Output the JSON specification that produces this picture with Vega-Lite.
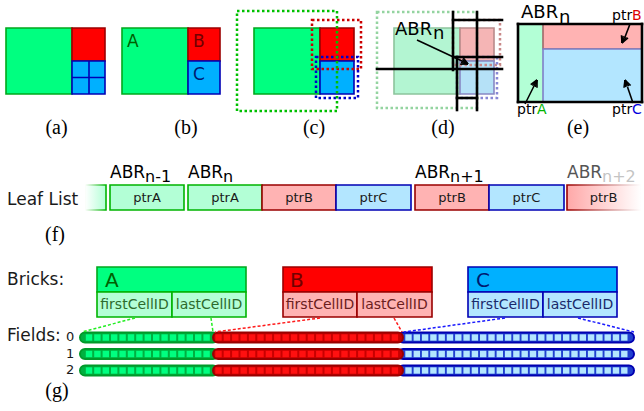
{
"$schema": "https://vega.github.io/schema/vega-lite/v6.json",
"width": 644, "height": 411,
"autosize": {"type": "fit", "contains": "padding"},
"padding": 0,
"background": "white",
"config": {"view": {"stroke": null}},
"resolve": {"scale": {"fill": "independent", "stroke": "independent"}},
"datasets": {
"rects": [
{"x":6,"x2":72,"y":28,"y2":94,"k":"G"},
{"x":72,"x2":105,"y":28,"y2":61,"k":"R"},
{"x":72,"x2":105,"y":61,"y2":94,"k":"B"},
{"x":122,"x2":188,"y":28,"y2":94,"k":"G"},
{"x":188,"x2":220,"y":28,"y2":61,"k":"R"},
{"x":188,"x2":220,"y":61,"y2":94,"k":"B"},
{"x":254,"x2":320,"y":28,"y2":94,"k":"G"},
{"x":320,"x2":354,"y":28,"y2":61,"k":"R"},
{"x":320,"x2":354,"y":61,"y2":94,"k":"B"},
{"x":394,"x2":460,"y":28,"y2":94,"k":"GD"},
{"x":460,"x2":494,"y":28,"y2":61,"k":"RD"},
{"x":460,"x2":494,"y":61,"y2":94,"k":"BD"},
{"x":518,"x2":543,"y":24,"y2":102,"k":"GE"},
{"x":543,"x2":642,"y":24,"y2":49,"k":"RE"},
{"x":543,"x2":642,"y":49,"y2":102,"k":"BE"},
{"x":110,"x2":184,"y":185,"y2":210,"k":"GL"},
{"x":188,"x2":262,"y":185,"y2":210,"k":"GL"},
{"x":262,"x2":336,"y":185,"y2":210,"k":"RL"},
{"x":336,"x2":411,"y":185,"y2":210,"k":"BL"},
{"x":415,"x2":489,"y":185,"y2":210,"k":"RL"},
{"x":489,"x2":564,"y":185,"y2":210,"k":"BL"},
{"x":97,"x2":246,"y":267,"y2":292,"k":"G"},
{"x":97,"x2":172,"y":292,"y2":317,"k":"GL"},
{"x":172,"x2":246,"y":292,"y2":317,"k":"GL"},
{"x":283,"x2":432,"y":267,"y2":292,"k":"R"},
{"x":283,"x2":357,"y":292,"y2":317,"k":"RL"},
{"x":357,"x2":432,"y":292,"y2":317,"k":"RL"},
{"x":468,"x2":617,"y":267,"y2":292,"k":"B"},
{"x":468,"x2":543,"y":292,"y2":317,"k":"BL"},
{"x":543,"x2":617,"y":292,"y2":317,"k":"BL"}
],
"fades": [
{"x":85,"x2":106,"y":185,"y2":210,"k":"FG"},
{"x":567,"x2":641,"y":185,"y2":210,"k":"FR"}
],
"dotted": [
{"x":312,"x2":361,"y":20,"y2":69,"k":"DotR"},
{"x":316,"x2":358,"y":57,"y2":98,"k":"DotB"},
{"x":237,"x2":337,"y":11,"y2":111,"k":"DotG"},
{"x":453,"x2":500,"y":20,"y2":65,"k":"DotRD"},
{"x":457,"x2":497,"y":57,"y2":98,"k":"DotBD"},
{"x":377,"x2":477,"y":12,"y2":108,"k":"DotGD"}
],
"bars": [
{"x":80,"x2":218,"y":332.5,"y2":342.5,"k":"BarG"},
{"x":398,"x2":634,"y":332.5,"y2":342.5,"k":"BarB"},
{"x":213,"x2":403,"y":332.5,"y2":342.5,"k":"BarR"},
{"x":80,"x2":218,"y":349,"y2":359,"k":"BarG"},
{"x":398,"x2":634,"y":349,"y2":359,"k":"BarB"},
{"x":213,"x2":403,"y":349,"y2":359,"k":"BarR"},
{"x":80,"x2":218,"y":365.5,"y2":375.5,"k":"BarG"},
{"x":398,"x2":634,"y":365.5,"y2":375.5,"k":"BarB"},
{"x":213,"x2":403,"y":365.5,"y2":375.5,"k":"BarR"}
],
"sq": [
{"x":85.8,"x2":92.2,"k":"QG","y":[334.3,350.8,367.3],"y2":[340.7,357.2,373.7]},
{"x":94.2,"x2":100.6,"k":"QG","y":[334.3,350.8,367.3],"y2":[340.7,357.2,373.7]},
{"x":102.6,"x2":109,"k":"QG","y":[334.3,350.8,367.3],"y2":[340.7,357.2,373.7]},
{"x":111,"x2":117.4,"k":"QG","y":[334.3,350.8,367.3],"y2":[340.7,357.2,373.7]},
{"x":119.4,"x2":125.8,"k":"QG","y":[334.3,350.8,367.3],"y2":[340.7,357.2,373.7]},
{"x":127.8,"x2":134.2,"k":"QG","y":[334.3,350.8,367.3],"y2":[340.7,357.2,373.7]},
{"x":136.2,"x2":142.6,"k":"QG","y":[334.3,350.8,367.3],"y2":[340.7,357.2,373.7]},
{"x":144.6,"x2":151,"k":"QG","y":[334.3,350.8,367.3],"y2":[340.7,357.2,373.7]},
{"x":153,"x2":159.4,"k":"QG","y":[334.3,350.8,367.3],"y2":[340.7,357.2,373.7]},
{"x":161.4,"x2":167.8,"k":"QG","y":[334.3,350.8,367.3],"y2":[340.7,357.2,373.7]},
{"x":169.8,"x2":176.2,"k":"QG","y":[334.3,350.8,367.3],"y2":[340.7,357.2,373.7]},
{"x":178.2,"x2":184.6,"k":"QG","y":[334.3,350.8,367.3],"y2":[340.7,357.2,373.7]},
{"x":186.6,"x2":193,"k":"QG","y":[334.3,350.8,367.3],"y2":[340.7,357.2,373.7]},
{"x":195,"x2":201.4,"k":"QG","y":[334.3,350.8,367.3],"y2":[340.7,357.2,373.7]},
{"x":203.4,"x2":209.8,"k":"QG","y":[334.3,350.8,367.3],"y2":[340.7,357.2,373.7]},
{"x":215.3,"x2":221.7,"k":"QR","y":[334.3,350.8,367.3],"y2":[340.7,357.2,373.7]},
{"x":223.7,"x2":230.1,"k":"QR","y":[334.3,350.8,367.3],"y2":[340.7,357.2,373.7]},
{"x":232.1,"x2":238.5,"k":"QR","y":[334.3,350.8,367.3],"y2":[340.7,357.2,373.7]},
{"x":240.5,"x2":246.9,"k":"QR","y":[334.3,350.8,367.3],"y2":[340.7,357.2,373.7]},
{"x":248.9,"x2":255.3,"k":"QR","y":[334.3,350.8,367.3],"y2":[340.7,357.2,373.7]},
{"x":257.3,"x2":263.7,"k":"QR","y":[334.3,350.8,367.3],"y2":[340.7,357.2,373.7]},
{"x":265.7,"x2":272.1,"k":"QR","y":[334.3,350.8,367.3],"y2":[340.7,357.2,373.7]},
{"x":274.1,"x2":280.5,"k":"QR","y":[334.3,350.8,367.3],"y2":[340.7,357.2,373.7]},
{"x":282.5,"x2":288.9,"k":"QR","y":[334.3,350.8,367.3],"y2":[340.7,357.2,373.7]},
{"x":290.9,"x2":297.3,"k":"QR","y":[334.3,350.8,367.3],"y2":[340.7,357.2,373.7]},
{"x":299.3,"x2":305.7,"k":"QR","y":[334.3,350.8,367.3],"y2":[340.7,357.2,373.7]},
{"x":307.7,"x2":314.1,"k":"QR","y":[334.3,350.8,367.3],"y2":[340.7,357.2,373.7]},
{"x":316.1,"x2":322.5,"k":"QR","y":[334.3,350.8,367.3],"y2":[340.7,357.2,373.7]},
{"x":324.5,"x2":330.9,"k":"QR","y":[334.3,350.8,367.3],"y2":[340.7,357.2,373.7]},
{"x":332.9,"x2":339.3,"k":"QR","y":[334.3,350.8,367.3],"y2":[340.7,357.2,373.7]},
{"x":341.3,"x2":347.7,"k":"QR","y":[334.3,350.8,367.3],"y2":[340.7,357.2,373.7]},
{"x":349.7,"x2":356.1,"k":"QR","y":[334.3,350.8,367.3],"y2":[340.7,357.2,373.7]},
{"x":358.1,"x2":364.5,"k":"QR","y":[334.3,350.8,367.3],"y2":[340.7,357.2,373.7]},
{"x":366.5,"x2":372.9,"k":"QR","y":[334.3,350.8,367.3],"y2":[340.7,357.2,373.7]},
{"x":374.9,"x2":381.3,"k":"QR","y":[334.3,350.8,367.3],"y2":[340.7,357.2,373.7]},
{"x":383.3,"x2":389.7,"k":"QR","y":[334.3,350.8,367.3],"y2":[340.7,357.2,373.7]},
{"x":391.7,"x2":398.1,"k":"QR","y":[334.3,350.8,367.3],"y2":[340.7,357.2,373.7]},
{"x":405.3,"x2":411.7,"k":"QB","y":[334.3,350.8,367.3],"y2":[340.7,357.2,373.7]},
{"x":413.6,"x2":420,"k":"QB","y":[334.3,350.8,367.3],"y2":[340.7,357.2,373.7]},
{"x":421.9,"x2":428.3,"k":"QB","y":[334.3,350.8,367.3],"y2":[340.7,357.2,373.7]},
{"x":430.2,"x2":436.6,"k":"QB","y":[334.3,350.8,367.3],"y2":[340.7,357.2,373.7]},
{"x":438.5,"x2":444.9,"k":"QB","y":[334.3,350.8,367.3],"y2":[340.7,357.2,373.7]},
{"x":446.8,"x2":453.2,"k":"QB","y":[334.3,350.8,367.3],"y2":[340.7,357.2,373.7]},
{"x":455.1,"x2":461.5,"k":"QB","y":[334.3,350.8,367.3],"y2":[340.7,357.2,373.7]},
{"x":463.4,"x2":469.8,"k":"QB","y":[334.3,350.8,367.3],"y2":[340.7,357.2,373.7]},
{"x":471.7,"x2":478.1,"k":"QB","y":[334.3,350.8,367.3],"y2":[340.7,357.2,373.7]},
{"x":480,"x2":486.4,"k":"QB","y":[334.3,350.8,367.3],"y2":[340.7,357.2,373.7]},
{"x":488.3,"x2":494.7,"k":"QB","y":[334.3,350.8,367.3],"y2":[340.7,357.2,373.7]},
{"x":496.6,"x2":503,"k":"QB","y":[334.3,350.8,367.3],"y2":[340.7,357.2,373.7]},
{"x":504.9,"x2":511.3,"k":"QB","y":[334.3,350.8,367.3],"y2":[340.7,357.2,373.7]},
{"x":513.2,"x2":519.6,"k":"QB","y":[334.3,350.8,367.3],"y2":[340.7,357.2,373.7]},
{"x":521.5,"x2":527.9,"k":"QB","y":[334.3,350.8,367.3],"y2":[340.7,357.2,373.7]},
{"x":529.8,"x2":536.2,"k":"QB","y":[334.3,350.8,367.3],"y2":[340.7,357.2,373.7]},
{"x":538.1,"x2":544.5,"k":"QB","y":[334.3,350.8,367.3],"y2":[340.7,357.2,373.7]},
{"x":546.4,"x2":552.8,"k":"QB","y":[334.3,350.8,367.3],"y2":[340.7,357.2,373.7]},
{"x":554.7,"x2":561.1,"k":"QB","y":[334.3,350.8,367.3],"y2":[340.7,357.2,373.7]},
{"x":563,"x2":569.4,"k":"QB","y":[334.3,350.8,367.3],"y2":[340.7,357.2,373.7]},
{"x":571.3,"x2":577.7,"k":"QB","y":[334.3,350.8,367.3],"y2":[340.7,357.2,373.7]},
{"x":579.6,"x2":586,"k":"QB","y":[334.3,350.8,367.3],"y2":[340.7,357.2,373.7]},
{"x":587.9,"x2":594.3,"k":"QB","y":[334.3,350.8,367.3],"y2":[340.7,357.2,373.7]},
{"x":596.2,"x2":602.6,"k":"QB","y":[334.3,350.8,367.3],"y2":[340.7,357.2,373.7]},
{"x":604.5,"x2":610.9,"k":"QB","y":[334.3,350.8,367.3],"y2":[340.7,357.2,373.7]},
{"x":612.8,"x2":619.2,"k":"QB","y":[334.3,350.8,367.3],"y2":[340.7,357.2,373.7]},
{"x":621.1,"x2":627.5,"k":"QB","y":[334.3,350.8,367.3],"y2":[340.7,357.2,373.7]}
],
"lines": [
{"x":453,"y":12,"x2":453,"y2":70,"k":"BLK"},
{"x":477,"y":12,"x2":477,"y2":110,"k":"BLK"},
{"x":453,"y":20,"x2":502,"y2":20,"k":"BLK"},
{"x":455,"y":57,"x2":502,"y2":57,"k":"BLK"},
{"x":377,"y":69,"x2":502,"y2":69,"k":"BLK"},
{"x":457,"y":57,"x2":457,"y2":110,"k":"BLK"},
{"x":457,"y":98,"x2":477,"y2":98,"k":"BLK"},
{"x":518,"y":24,"x2":642,"y2":24,"k":"BLK"},
{"x":642,"y":24,"x2":642,"y2":102,"k":"BLK"},
{"x":642,"y":102,"x2":518,"y2":102,"k":"BLK"},
{"x":518,"y":102,"x2":518,"y2":24,"k":"BLK"},
{"x":89,"y":61,"x2":89,"y2":94,"k":"GRID"},
{"x":72,"y":77.5,"x2":105,"y2":77.5,"k":"GRID"},
{"x":417,"y":40,"x2":462,"y2":61,"k":"ARR"},
{"x":468,"y":64,"x2":460.18,"y2":64.18,"k":"ARR"},
{"x":468,"y":64,"x2":460.92,"y2":62.6,"k":"ARR"},
{"x":468,"y":64,"x2":461.67,"y2":61.02,"k":"ARR"},
{"x":468,"y":64,"x2":462.42,"y2":59.44,"k":"ARR"},
{"x":468,"y":64,"x2":463.16,"y2":57.86,"k":"ARR"},
{"x":630,"y":24,"x2":625,"y2":37,"k":"ARR"},
{"x":622,"y":43,"x2":621.49,"y2":35.19,"k":"ARR"},
{"x":622,"y":43,"x2":623.1,"y2":35.87,"k":"ARR"},
{"x":622,"y":43,"x2":624.72,"y2":36.55,"k":"ARR"},
{"x":622,"y":43,"x2":626.33,"y2":37.23,"k":"ARR"},
{"x":622,"y":43,"x2":627.95,"y2":37.91,"k":"ARR"},
{"x":525,"y":104,"x2":534,"y2":86,"k":"ARR"},
{"x":537,"y":80,"x2":537,"y2":87.82,"k":"ARR"},
{"x":537,"y":80,"x2":535.43,"y2":87.04,"k":"ARR"},
{"x":537,"y":80,"x2":533.87,"y2":86.26,"k":"ARR"},
{"x":537,"y":80,"x2":532.31,"y2":85.48,"k":"ARR"},
{"x":537,"y":80,"x2":530.74,"y2":84.7,"k":"ARR"},
{"x":633,"y":103,"x2":627.5,"y2":87,"k":"ARR"},
{"x":625,"y":80,"x2":630.61,"y2":85.46,"k":"ARR"},
{"x":625,"y":80,"x2":628.95,"y2":86.03,"k":"ARR"},
{"x":625,"y":80,"x2":627.3,"y2":86.61,"k":"ARR"},
{"x":625,"y":80,"x2":625.65,"y2":87.19,"k":"ARR"},
{"x":625,"y":80,"x2":623.99,"y2":87.76,"k":"ARR"},
{"x":135,"y":318,"x2":82,"y2":332,"k":"CG"},
{"x":211,"y":318,"x2":213,"y2":332,"k":"CG"},
{"x":320,"y":318,"x2":215,"y2":332,"k":"CR"},
{"x":394,"y":318,"x2":402,"y2":332,"k":"CR"},
{"x":505,"y":318,"x2":404,"y2":332,"k":"CB"},
{"x":578,"y":318,"x2":634,"y2":332,"k":"CB"}
],
"texts": [
{"t":"(a)","x":56.5,"y":134,"s":"lab","k":"TK"},
{"t":"(b)","x":186,"y":134,"s":"lab","k":"TK"},
{"t":"(c)","x":314,"y":134,"s":"lab","k":"TK"},
{"t":"(d)","x":443,"y":134,"s":"lab","k":"TK"},
{"t":"(e)","x":578,"y":134,"s":"lab","k":"TK"},
{"t":"(f)","x":55,"y":241,"s":"lab","k":"TK"},
{"t":"(g)","x":57,"y":397,"s":"lab","k":"TK"},
{"t":"A","x":127,"y":47,"s":"s17","k":"TG"},
{"t":"B","x":193,"y":47,"s":"s17","k":"TR"},
{"t":"C","x":193,"y":80,"s":"s17","k":"TB"},
{"t":"Leaf List","x":7,"y":205,"s":"s17","k":"TD"},
{"t":"Bricks:","x":7,"y":285,"s":"s17","k":"TD"},
{"t":"Fields:","x":7,"y":341,"s":"s17","k":"TD"},
{"t":"ABR","x":395,"y":35,"s":"s18","k":"TK"},
{"t":"n","x":433,"y":39,"s":"s18","k":"TK"},
{"t":"ABR","x":521,"y":18,"s":"s18","k":"TK"},
{"t":"n","x":559,"y":22.5,"s":"s18","k":"TK"},
{"t":"A","x":105,"y":287,"s":"s20","k":"TG"},
{"t":"B","x":290,"y":287,"s":"s20","k":"TR"},
{"t":"C","x":476,"y":287,"s":"s20","k":"TB"},
{"t":"ptr","x":612,"y":20,"s":"s14","k":"TK"},
{"t":"B","x":632,"y":20,"s":"s14","k":"PB"},
{"t":"ptr","x":517,"y":114,"s":"s14","k":"TK"},
{"t":"A","x":537,"y":114,"s":"s14","k":"PA"},
{"t":"ptr","x":612,"y":114,"s":"s14","k":"TK"},
{"t":"C","x":632,"y":114,"s":"s14","k":"PC"},
{"t":"ABR","x":110,"y":178,"s":"s17","k":"TK"},
{"t":"n-1","x":145,"y":182,"s":"s16","k":"TK"},
{"t":"ABR","x":188,"y":178,"s":"s17","k":"TK"},
{"t":"n","x":223,"y":182,"s":"s16","k":"TK"},
{"t":"ABR","x":415,"y":178,"s":"s17","k":"TK"},
{"t":"n+1","x":450,"y":182,"s":"s16","k":"TK"},
{"t":"ABR","x":567,"y":178,"s":"s17","k":"TGray"},
{"t":"n+2","x":602,"y":182,"s":"s16","k":"TLight"},
{"t":"0","x":66,"y":341,"s":"s13","k":"TD"},
{"t":"1","x":66,"y":358,"s":"s13","k":"TD"},
{"t":"2","x":66,"y":374,"s":"s13","k":"TD"},
{"t":"firstCellID","x":134.5,"y":309,"s":"c13","k":"TDG"},
{"t":"lastCellID","x":209,"y":309,"s":"c13","k":"TDG"},
{"t":"firstCellID","x":320,"y":309,"s":"c13","k":"TDR"},
{"t":"lastCellID","x":394.5,"y":309,"s":"c13","k":"TDR"},
{"t":"firstCellID","x":505.5,"y":309,"s":"c13","k":"TDB"},
{"t":"lastCellID","x":580,"y":309,"s":"c13","k":"TDB"},
{"t":"ptrA","x":147,"y":202,"s":"c12","k":"TD"},
{"t":"ptrA","x":225,"y":202,"s":"c12","k":"TD"},
{"t":"ptrB","x":299,"y":202,"s":"c12","k":"TD"},
{"t":"ptrC","x":373.5,"y":202,"s":"c12","k":"TD"},
{"t":"ptrB","x":452,"y":202,"s":"c12","k":"TD"},
{"t":"ptrC","x":526.5,"y":202,"s":"c12","k":"TD"},
{"t":"ptrB","x":603.5,"y":202,"s":"c12","k":"TD"}
]
},
"encoding": {
"x": {"field": "x", "type": "quantitative", "scale": {"domain": [0, 644], "nice": false, "zero": false}, "axis": null},
"y": {"field": "y", "type": "quantitative", "scale": {"domain": [0, 411], "nice": false, "zero": false, "reverse": true}, "axis": null}
},
"layer": [
{
"data": {"name": "rects"},
"mark": {"type": "rect", "strokeWidth": 1.6},
"encoding": {
"x2": {"field": "x2"}, "y2": {"field": "y2"},
"fill": {"field": "k", "type": "nominal", "legend": null, "scale": {"domain": ["G","R","B","GL","RL","BL","GD","RD","BD","GE","RE","BE"], "range": ["#00ff80","#ff0000","#00b0ff","#b3ffd6","#ffb3b3","#b3e6ff","#b3f5d2","#f5b5b5","#b5e1f7","#b3ffd6","#ffb3b3","#b3e6ff"]}},
"stroke": {"field": "k", "type": "nominal", "legend": null, "scale": {"domain": ["G","R","B","GL","RL","BL","GD","RD","BD","GE","RE","BE"], "range": ["#00a81c","#9c0000","#0000b4","#00b400","#990000","#0000b4","#8cc49c","#b88a8a","#8888c4","#b3ffd6","#a06868","#8080c8"]}}
}
},
{
"data": {"name": "fades"},
"transform": [{"filter": "datum.k == 'FG'"}],
"mark": {"type": "rect", "strokeWidth": 1.6,
"fill": {"gradient": "linear", "x1": 0, "x2": 1, "y1": 0, "y2": 0, "stops": [{"offset": 0, "color": "#ffffff"}, {"offset": 1, "color": "#b3ffd6"}]},
"stroke": {"gradient": "linear", "x1": 0, "x2": 1, "y1": 0, "y2": 0, "stops": [{"offset": 0, "color": "#ffffff"}, {"offset": 1, "color": "#00b400"}]}},
"encoding": {"x2": {"field": "x2"}, "y2": {"field": "y2"}}
},
{
"data": {"name": "fades"},
"transform": [{"filter": "datum.k == 'FR'"}],
"mark": {"type": "rect", "strokeWidth": 1.6,
"fill": {"gradient": "linear", "x1": 0, "x2": 1, "y1": 0, "y2": 0, "stops": [{"offset": 0, "color": "#ffa8a8"}, {"offset": 1, "color": "#ffffff"}]},
"stroke": {"gradient": "linear", "x1": 0, "x2": 1, "y1": 0, "y2": 0, "stops": [{"offset": 0, "color": "#990000"}, {"offset": 1, "color": "#ffffff"}]}},
"encoding": {"x2": {"field": "x2"}, "y2": {"field": "y2"}}
},
{
"data": {"name": "dotted"},
"mark": {"type": "rect", "fill": null, "fillOpacity": 0, "strokeWidth": 2.5, "strokeDash": [2.5, 2.5]},
"encoding": {
"x2": {"field": "x2"}, "y2": {"field": "y2"},
"stroke": {"field": "k", "type": "nominal", "legend": null, "scale": {"domain": ["DotR","DotB","DotG","DotRD","DotBD","DotGD"], "range": ["#cc0000","#0000cc","#00c000","#c88888","#8888d4","#94d4a0"]}}
}
},
{
"data": {"name": "bars"},
"mark": {"type": "rect", "strokeWidth": 2, "cornerRadius": 5},
"encoding": {
"x2": {"field": "x2"}, "y2": {"field": "y2"},
"fill": {"field": "k", "type": "nominal", "legend": null, "scale": {"domain": ["BarG","BarR","BarB"], "range": ["#00b040","#c80000","#2040d0"]}},
"stroke": {"field": "k", "type": "nominal", "legend": null, "scale": {"domain": ["BarG","BarR","BarB"], "range": ["#009a2a","#9a0000","#0000b0"]}}
}
},
{
"data": {"name": "sq"},
"transform": [{"flatten": ["y", "y2"]}],
"mark": {"type": "rect", "strokeWidth": 0},
"encoding": {
"x2": {"field": "x2"}, "y2": {"field": "y2"},
"fill": {"field": "k", "type": "nominal", "legend": null, "scale": {"domain": ["QG","QR","QB"], "range": ["#00ff80","#ff1010","#b3e6ff"]}}
}
},
{
"data": {"name": "lines"},
"transform": [{"filter": "datum.k == 'GRID'"}],
"mark": {"type": "rule", "strokeWidth": 1.6, "color": "#0000b4"},
"encoding": {"x2": {"field": "x2"}, "y2": {"field": "y2"}}
},
{
"data": {"name": "lines"},
"transform": [{"filter": "datum.k == 'BLK'"}],
"mark": {"type": "rule", "strokeWidth": 2.6, "color": "#000000", "strokeCap": "square"},
"encoding": {"x2": {"field": "x2"}, "y2": {"field": "y2"}}
},
{
"data": {"name": "lines"},
"transform": [{"filter": "datum.k == 'ARR'"}],
"mark": {"type": "rule", "strokeWidth": 1.6, "color": "#000000"},
"encoding": {"x2": {"field": "x2"}, "y2": {"field": "y2"}}
},
{
"data": {"name": "lines"},
"transform": [{"filter": "datum.k == 'CG' || datum.k == 'CR' || datum.k == 'CB'"}],
"mark": {"type": "rule", "strokeWidth": 1.5, "strokeDash": [3, 2]},
"encoding": {
"x2": {"field": "x2"}, "y2": {"field": "y2"},
"stroke": {"field": "k", "type": "nominal", "legend": null, "scale": {"domain": ["CG","CR","CB"], "range": ["#22ee22","#ff1a1a","#1a1aff"]}}
}
},
{
"data": {"name": "texts"},
"transform": [{"filter": "datum.s == 'lab'"}],
"mark": {"type": "text", "font": "Liberation Serif", "fontSize": 20, "align": "center", "baseline": "alphabetic"},
"encoding": {"text": {"field": "t"}, "fill": {"field": "k", "type": "nominal", "legend": null, "scale": {"domain": ["TK"], "range": ["#000000"]}}}
},
{
"data": {"name": "texts"},
"transform": [{"filter": "datum.s == 's17' || datum.s == 's18' || datum.s == 's20' || datum.s == 's16' || datum.s == 's14' || datum.s == 's13'"}],
"mark": {"type": "text", "font": "DejaVu Sans", "align": "left", "baseline": "alphabetic"},
"encoding": {
"text": {"field": "t"},
"size": {"field": "s", "type": "nominal", "legend": null, "scale": {"type": "ordinal", "domain": ["s13","s14","s16","s17","s18","s20"], "range": [13,14,16,17,18,20]}},
"fill": {"field": "k", "type": "nominal", "legend": null, "scale": {"domain": ["TK","TD","TG","TR","TB","TGray","TLight","PA","PB","PC"], "range": ["#000000","#1a1a1a","#006000","#700000","#001a70","#555555","#c4c4c4","#00b400","#dd0000","#0000dd"]}}
}
},
{
"data": {"name": "texts"},
"transform": [{"filter": "datum.s == 'c13' || datum.s == 'c12'"}],
"mark": {"type": "text", "font": "DejaVu Sans", "align": "center", "baseline": "alphabetic"},
"encoding": {
"text": {"field": "t"},
"size": {"field": "s", "type": "nominal", "legend": null, "scale": {"type": "ordinal", "domain": ["c12","c13"], "range": [12,12.5]}},
"fill": {"field": "k", "type": "nominal", "legend": null, "scale": {"domain": ["TD","TDG","TDR","TDB"], "range": ["#1a1a1a","#2d6b2d","#6b2020","#1a2a6b"]}}
}
}
]
}
